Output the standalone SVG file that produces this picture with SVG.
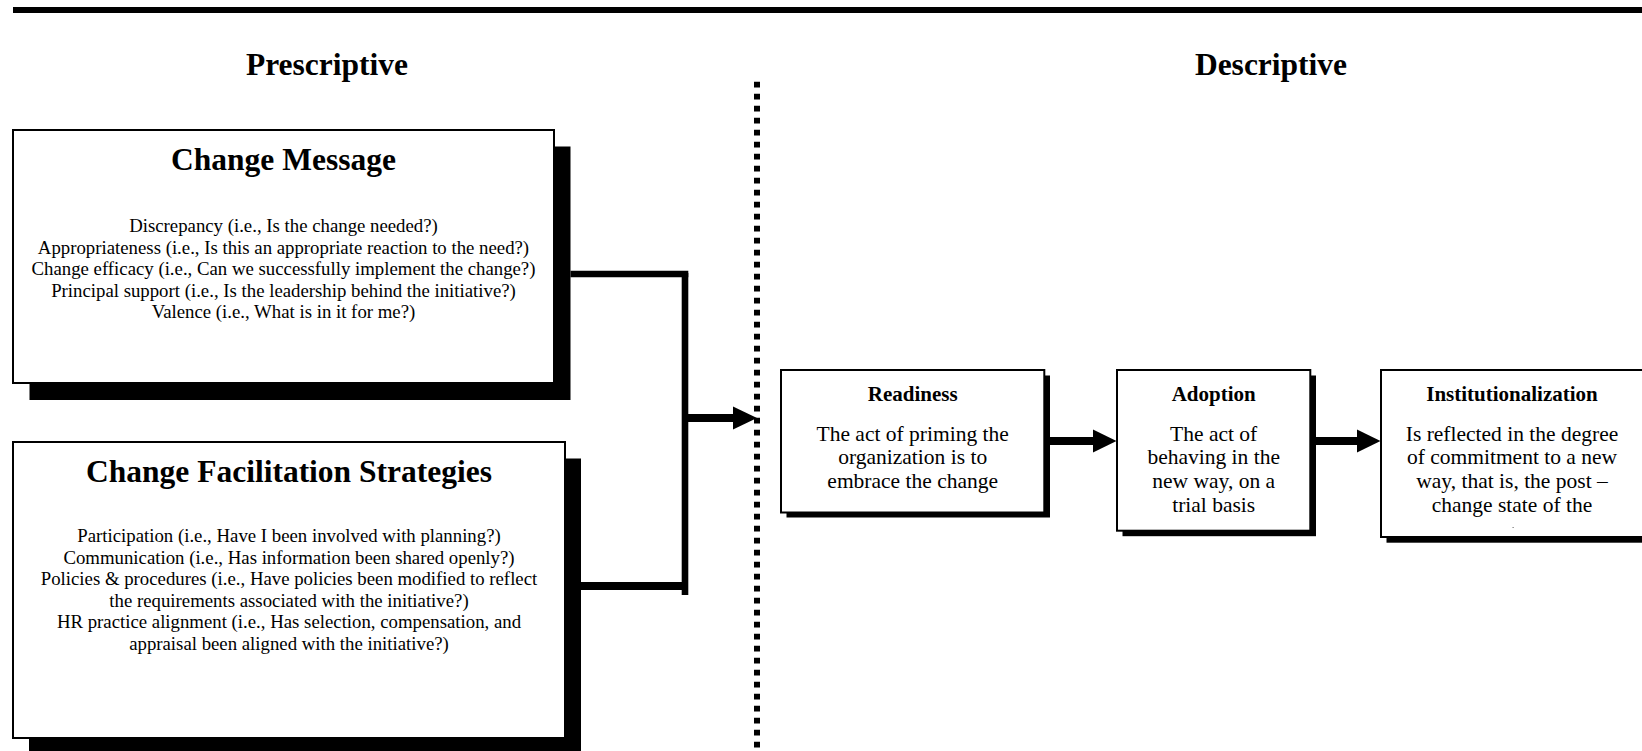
<svg xmlns="http://www.w3.org/2000/svg" width="1642" height="751" viewBox="0 0 1642 751">
<style>
text{font-family:"Liberation Serif","Times New Roman",serif;fill:#000;text-anchor:middle}
.h{font-weight:bold;font-size:31.5px}
.t{font-weight:bold;font-size:21px}
.b{font-size:18.8px}
.s{font-size:21.5px}
.box{fill:#fff;stroke:#000;stroke-width:2}
.sh{fill:#000}
.ln{stroke:#000;fill:none}
</style>
<rect x="13" y="7" width="1629" height="6" fill="#000"/>
<text class="h" x="327" y="75">Prescriptive</text>
<text class="h" x="1271" y="75">Descriptive</text>
<line x1="757" y1="81.7" x2="757" y2="751" stroke="#000" stroke-width="6" stroke-dasharray="5.7 6.3"/>

<g id="change-message">
<rect class="sh" x="29.5" y="146.5" width="541" height="253.5"/>
<rect class="box" x="13" y="130" width="541" height="253"/>
<text class="h" x="283.5" y="170">Change Message</text>
<text class="b" x="283.5" y="232">Discrepancy (i.e., Is the change needed?)</text>
<text class="b" x="283.5" y="253.5">Appropriateness (i.e., Is this an appropriate reaction to the need?)</text>
<text class="b" x="283.5" y="275">Change efficacy (i.e., Can we successfully implement the change?)</text>
<text class="b" x="283.5" y="296.5">Principal support (i.e., Is the leadership behind the initiative?)</text>
<text class="b" x="283.5" y="318">Valence (i.e., What is in it for me?)</text>
</g>

<g id="change-facilitation">
<rect class="sh" x="29" y="458.5" width="552" height="300"/>
<rect class="box" x="13" y="442" width="552" height="296"/>
<text class="h" x="289" y="482">Change Facilitation Strategies</text>
<text class="b" x="289" y="542">Participation (i.e., Have I been involved with planning?)</text>
<text class="b" x="289" y="563.5">Communication (i.e., Has information been shared openly?)</text>
<text class="b" x="289" y="585">Policies &amp; procedures (i.e., Have policies been modified to reflect</text>
<text class="b" x="289" y="606.5">the requirements associated with the initiative?)</text>
<text class="b" x="289" y="628">HR practice alignment (i.e., Has selection, compensation, and</text>
<text class="b" x="289" y="649.5">appraisal been aligned with the initiative?)</text>
</g>

<g id="readiness">
<rect class="sh" x="786.5" y="375.5" width="263.5" height="142"/>
<rect class="box" x="781" y="370" width="263.3" height="142.5"/>
<text class="t" x="912.7" y="400.7">Readiness</text>
<text class="s" x="912.7" y="440.5">The act of priming the</text>
<text class="s" x="912.7" y="464.3">organization is to</text>
<text class="s" x="912.7" y="488">embrace the change</text>
</g>

<g id="adoption">
<rect class="sh" x="1122.5" y="375.5" width="193.5" height="160.7"/>
<rect class="box" x="1117" y="370" width="193.3" height="160.7"/>
<text class="t" x="1213.7" y="400.7">Adoption</text>
<text class="s" x="1213.7" y="440.5">The act of</text>
<text class="s" x="1213.7" y="464.3">behaving in the</text>
<text class="s" x="1213.7" y="488">new way, on a</text>
<text class="s" x="1213.7" y="511.8">trial basis</text>
</g>

<g id="institutionalization">
<rect class="sh" x="1386.5" y="375.5" width="270" height="167.2"/>
<rect class="box" x="1381" y="370" width="270" height="167"/>
<text class="t" x="1512" y="400.7">Institutionalization</text>
<text class="s" x="1512" y="440.5">Is reflected in the degree</text>
<text class="s" x="1512" y="464.3">of commitment to a new</text>
<text class="s" x="1512" y="488">way, that is, the post –</text>
<text class="s" x="1512" y="511.8">change state of the</text>
<rect x="1512.6" y="527" width="1" height="1" fill="#555"/>
</g>

<g id="connectors">
<line class="ln" x1="570.5" y1="274" x2="688.3" y2="274" stroke-width="6.6"/>
<line class="ln" x1="685" y1="273" x2="685" y2="595" stroke-width="6.6"/>
<line class="ln" x1="581" y1="586" x2="685" y2="586" stroke-width="8"/>
<line class="ln" x1="685" y1="418" x2="734" y2="418" stroke-width="8"/>
<polygon points="733,406.5 757,418 733,429.5" fill="#000"/>
<line class="ln" x1="1050" y1="441" x2="1094" y2="441" stroke-width="8"/>
<polygon points="1093,429.5 1116.5,441 1093,452.5" fill="#000"/>
<line class="ln" x1="1316" y1="441" x2="1358" y2="441" stroke-width="8"/>
<polygon points="1357,429.5 1380.5,441 1357,452.5" fill="#000"/>
</g>
</svg>
